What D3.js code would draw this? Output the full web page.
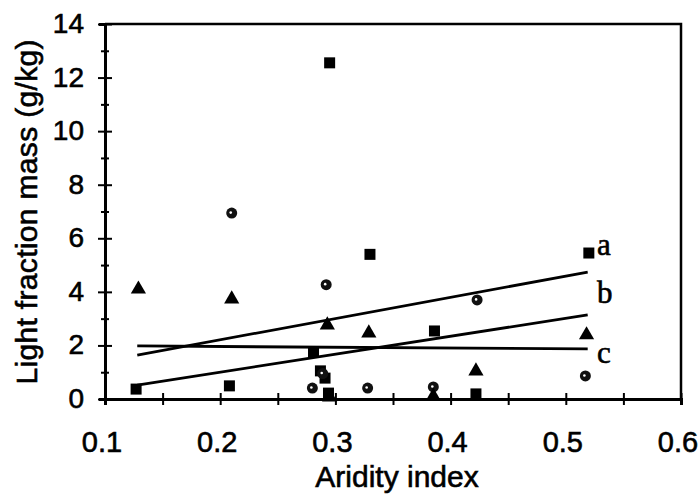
<!DOCTYPE html>
<html>
<head>
<meta charset="utf-8">
<script src="https://cdn.jsdelivr.net/npm/d3@7"></script>
<style>
  body { margin: 0; background: #fff; }
  text { font-family: "Liberation Sans", Arial, sans-serif; fill: #000; stroke: #000; stroke-width: 0.6px; }
</style>
</head>
<body>
<div id="canvas"></div>
<script>
"use strict"

/* drawing size */
let svgWidth = 698;
let svgHeight = 495;

/* plot box edges */
let leftEdge = 105
let rightEdge = 681
let topEdge = 24
let bottomEdge = 399

/* data: series a (squares) */
let squareX = [0.295, 0.33, 0.52, 0.386, 0.422, 0.127, 0.208, 0.281, 0.287, 0.291, 0.294];
let squareY = [12.55, 5.4, 5.45, 2.54, 0.19, 0.37, 0.49, 1.75, 1.05, 0.78, 0.22];

/* series b (circles) */
let circleX = [0.21, 0.292, 0.423, 0.517, 0.385, 0.328, 0.28, 0.289];
let circleY = [6.94, 4.27, 3.7, 0.86, 0.45, 0.41, 0.41, 0.95];

/* series c (triangles) */
let triangleX = [0.129, 0.21, 0.293, 0.329, 0.518, 0.422, 0.385, 0.295];
let triangleY = [4.1, 3.73, 2.76, 2.46, 2.39, 1.04, 0.1, 0.07];

/* fitted lines: start and end points */
let fitLines = [
    { name: "a", pts: [[0.128, 1.64], [0.519, 4.74]] },
    { name: "b", pts: [[0.128, 0.52], [0.519, 3.14]] },
    { name: "c", pts: [[0.128, 1.98], [0.519, 1.87]] }
];

/* line labels */
let lineLabels = ["a", "b", "c"];
let labelY = [5.65, 3.85, 1.6];

/* ticks */
let xTickValues = [0.1, 0.15, 0.2, 0.25, 0.3, 0.35, 0.4, 0.45, 0.5, 0.55, 0.6];
let xTickLabels = [0.1, 0.2, 0.3, 0.4, 0.5, 0.6];
let yTickValues = [0, 1, 2, 3, 4, 5, 6, 7, 8, 9, 10, 11, 12, 13, 14];
let yTickLabels = [0, 2, 4, 6, 8, 10, 12, 14];

let svg = d3.select("#canvas")
    .append("svg")
    .attr("width", svgWidth)
    .attr("height", svgHeight);

svg.append("rect")
    .attr("width", svgWidth)
    .attr("height", svgHeight)
    .attr("fill", "white");

let xScale = d3.scaleLinear()
    .domain([0.1, 0.6])
    .range([leftEdge, rightEdge]);

let yScale = d3.scaleLinear()
    .domain([0, 14])
    .range([bottomEdge, topEdge]);

/* top and right border */
svg.append("path")
    .attr("d", "M" + leftEdge + "," + topEdge + "H" + rightEdge + "V" + bottomEdge)
    .attr("fill", "none")
    .attr("stroke", "black")
    .attr("stroke-width", 2.5);

/* x axis, ticks crossing the line */
let xAxis = svg.append("g")
    .attr("transform", "translate(0," + bottomEdge + ")")
    .call(d3.axisBottom(xScale)
        .tickValues(xTickValues)
        .tickSize(6)
        .tickFormat(""));
xAxis.select(".domain").attr("stroke-width", 3);
xAxis.selectAll(".tick line")
    .attr("y1", -6)
    .attr("y2", 6)
    .attr("stroke-width", 2);

/* y axis */
let yAxis = svg.append("g")
    .attr("transform", "translate(" + leftEdge + ",0)")
    .call(d3.axisLeft(yScale)
        .tickValues(yTickValues)
        .tickSize(6)
        .tickFormat(""));
yAxis.select(".domain").attr("stroke-width", 3);
yAxis.selectAll(".tick line")
    .attr("x1", function(d) { return d % 2 === 0 ? -7 : -4 })
    .attr("x2", function(d) { return d % 2 === 0 ? 7 : 4 })
    .attr("stroke-width", 2);

/* tick labels */
svg.selectAll(".xlab")
    .data(xTickLabels)
    .join("text")
    .attr("class", "xlab")
    .attr("x", function(d) { return xScale(d) - 3 })
    .attr("y", bottomEdge + 53)
    .attr("text-anchor", "middle")
    .attr("font-size", 29)
    .text(function(d) { return d.toFixed(1) });

svg.selectAll(".ylab")
    .data(yTickLabels)
    .join("text")
    .attr("class", "ylab")
    .attr("x", 84)
    .attr("y", function(d) { return yScale(d) + 9 })
    .attr("text-anchor", "end")
    .attr("font-size", 28)
    .text(function(d) { return d });

/* axis titles */
svg.append("text")
    .attr("x", 397)
    .attr("y", 487)
    .attr("text-anchor", "middle")
    .attr("font-size", 30)
    .text("Aridity index");

svg.append("text")
    .attr("transform", "translate(37,212) rotate(-90)")
    .attr("text-anchor", "middle")
    .attr("font-size", 30)
    .attr("textLength", 345)
    .text("Light fraction mass (g/kg)");

/* fitted lines */
let line = d3.line()
    .x(function(d) { return xScale(d[0]) })
    .y(function(d) { return yScale(d[1]) });

svg.selectAll(".fit")
    .data(fitLines)
    .join("path")
    .attr("class", "fit")
    .attr("d", function(d) { return line(d.pts) })
    .attr("fill", "none")
    .attr("stroke", "black")
    .attr("stroke-width", 2.8);

/* line labels */
svg.selectAll(".lname")
    .data(lineLabels)
    .join("text")
    .attr("class", "lname")
    .attr("x", xScale(0.527))
    .attr("y", function(d, i) { return yScale(labelY[i]) + 7 })
    .style("font-family", "'Liberation Serif', 'Times New Roman', serif")
    .attr("font-size", 31)
    .text(function(d) { return d });

/* squares */
svg.selectAll(".sq")
    .data(squareX)
    .join("rect")
    .attr("class", "sq")
    .attr("x", function(d) { return xScale(d) - 5.5 })
    .attr("y", function(d, i) { return yScale(squareY[i]) - 5.5 })
    .attr("width", 11)
    .attr("height", 11)
    .attr("fill", "black");

/* circles: dark blobs with a light speck */
svg.selectAll(".ci")
    .data(circleX)
    .join("circle")
    .attr("class", "ci")
    .attr("cx", function(d) { return xScale(d) })
    .attr("cy", function(d, i) { return yScale(circleY[i]) })
    .attr("r", 5.5)
    .attr("fill", "#111");

svg.selectAll(".cidot")
    .data(circleX)
    .join("circle")
    .attr("class", "cidot")
    .attr("cx", function(d) { return xScale(d) - 1 })
    .attr("cy", function(d, i) { return yScale(circleY[i]) - 0.5 })
    .attr("r", 1.3)
    .attr("fill", "white");

/* triangles */
let tri = d3.symbol().type(d3.symbolTriangle).size(100);

svg.selectAll(".tr")
    .data(triangleX)
    .join("path")
    .attr("class", "tr")
    .attr("d", tri)
    .attr("transform", function(d, i) {
        return "translate(" + xScale(d) + "," + yScale(triangleY[i]) + ")" })
    .attr("fill", "black");
</script>
</body>
</html>
